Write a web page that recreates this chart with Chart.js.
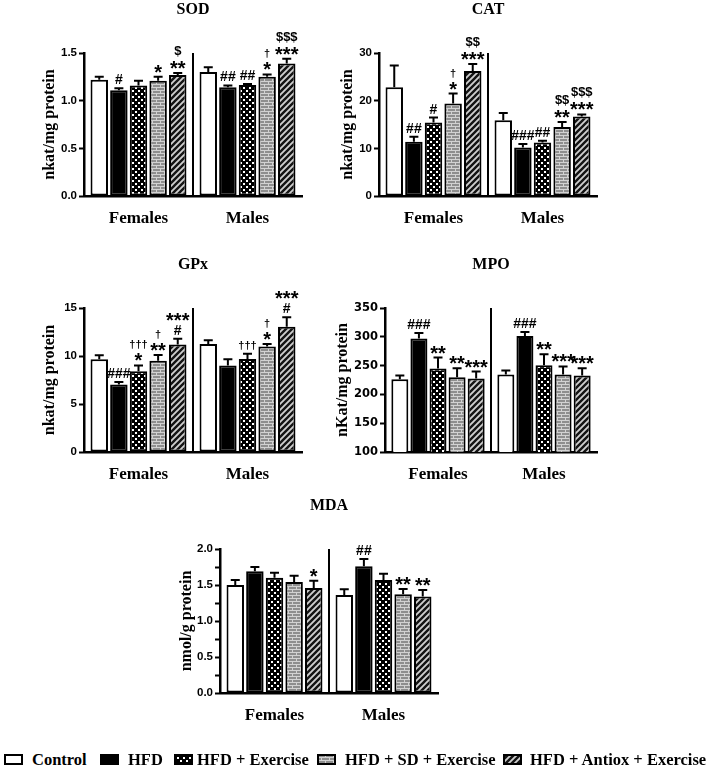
<!DOCTYPE html>
<html>
<head>
<meta charset="utf-8">
<script src="https://cdn.jsdelivr.net/npm/chart.js@4.4.1/dist/chart.umd.min.js"></script>
<style>
  body { margin: 0; background: #fff; width: 709px; height: 770px; position: relative; overflow: hidden; }
  canvas.panel { position: absolute; }
  .lg { position: absolute; font: bold 16.5px "Liberation Serif", "Times New Roman", serif; color: #000; white-space: nowrap; line-height: 18px; }
  .sw { position: absolute; }
</style>
</head>
<body>
<script>
// Groups and treatment series
const groups = ['Females', 'Males'];
const seriesNames = ['Control', 'HFD', 'HFD + Exercise', 'HFD + SD + Exercise', 'HFD + Antiox + Exercise'];

// Each row is one series: [Females, Males]
const sodMean = [[1.22, 1.30], [1.11, 1.14], [1.16, 1.165], [1.21, 1.25], [1.27, 1.39]];
const sodErr = [[0.03, 0.05], [0.02, 0.02], [0.05, 0.01], [0.04, 0.025], [0.02, 0.05]];
const sodMarks = [['', ''], ['#', '##'], ['', '##'], ['*', '†\n*'], ['$\n**', '$$$\n***']];

const catMean = [[22.8, 15.9], [11.4, 10.2], [15.4, 11.2], [19.4, 14.5], [26.2, 16.7]];
const catErr = [[4.6, 1.5], [1.05, 0.7], [1.05, 0.4], [2.1, 1.0], [1.5, 0.4]];
const catMarks = [['', ''], ['##', '###'], ['#', '##'], ['†\n*', '$$\n**'], ['$$\n***', '$$$\n***']];

const gpxMean = [[9.65, 11.25], [7.03, 9.0], [8.42, 9.68], [9.5, 11.0], [11.2, 13.05]];
const gpxErr = [[0.42, 0.38], [0.25, 0.67], [0.6, 0.55], [0.6, 0.25], [0.6, 0.98]];
const gpxMarks = [['', ''], ['###', ''], ['†††\n*', '†††'], ['†\n**', '†\n*'], ['***\n#', '***\n#']];

const mpoMean = [[226.5, 234.6], [297.2, 301.3], [245, 250.8], [229.9, 234.6], [227.6, 232.8]];
const mpoErr = [[6.4, 7], [9.3, 7], [19, 19], [15.7, 14], [12, 12.8]];
const mpoMarks = [['', ''], ['###', '###'], ['**', '**'], ['**', '***'], ['***', '***']];

const mdaMean = [[1.50, 1.36], [1.69, 1.76], [1.60, 1.57], [1.54, 1.37], [1.46, 1.34]];
const mdaErr = [[0.07, 0.08], [0.06, 0.10], [0.07, 0.085], [0.09, 0.075], [0.10, 0.09]];
const mdaMarks = [['', ''], ['', '##'], ['', ''], ['', '**'], ['*', '**']];

const W = 360, H = 260;
const SERIF = '"Liberation Serif", "Times New Roman", serif';
const SANS = '"Liberation Sans", Arial, sans-serif';

// Panel layout (plot area in page pixels)
const panels = [
  { title: 'SOD', yTitle: 'nkat/mg protein', mean: sodMean, err: sodErr, marks: sodMarks,
    min: 0, max: 1.5, step: 0.5, labelStep: 0.5, dec: 1, l: 84, t: 53, r: 302, b: 196, yw: 34 },
  { title: 'CAT', yTitle: 'nkat/mg protein', mean: catMean, err: catErr, marks: catMarks,
    min: 0, max: 30, step: 10, labelStep: 10, dec: 0, l: 379, t: 53, r: 597, b: 196, yw: 31 },
  { title: 'GPx', yTitle: 'nkat/mg protein', mean: gpxMean, err: gpxErr, marks: gpxMarks,
    min: 0, max: 15, step: 5, labelStep: 5, dec: 0, l: 84, t: 308, r: 302, b: 452, yw: 34 },
  { title: 'MPO', yTitle: 'nKat/mg protein', mean: mpoMean, err: mpoErr, marks: mpoMarks,
    min: 100, max: 350, step: 50, labelStep: 50, dec: 0, l: 385, t: 308, r: 597, b: 452, yw: 42,
    tickFont: { family: '"DejaVu Sans", sans-serif', size: 11.5, weight: 'bold' } },
  { title: 'MDA', yTitle: 'nmol/g protein', mean: mdaMean, err: mdaErr, marks: mdaMarks,
    min: 0, max: 2, step: 0.25, labelStep: 0.5, dec: 1, l: 220, t: 549, r: 438, b: 693, yw: 33 }
];

Chart.defaults.animation = false;
Chart.defaults.color = '#000';

// Bar fills: white, black, dots, bricks, diagonal stripes
function makeFills(ctx) {
  const tile = (w, h, draw) => {
    const c = document.createElement('canvas');
    c.width = w; c.height = h;
    draw(c.getContext('2d'));
    return ctx.createPattern(c, 'repeat');
  };
  const dots = tile(6, 6, g => {
    g.fillStyle = '#000'; g.fillRect(0, 0, 6, 6);
    g.fillStyle = '#fff'; g.fillRect(0, 0, 2, 2); g.fillRect(3, 3, 2, 2);
  });
  const brick = tile(8, 6, g => {
    g.fillStyle = '#8e8e8e'; g.fillRect(0, 0, 8, 6);
    g.fillStyle = '#d2d2d2';
    g.fillRect(0, 0, 8, 1); g.fillRect(0, 3, 8, 1);
    g.fillRect(0, 0, 1, 3); g.fillRect(4, 3, 1, 3);
  });
  const diag = tile(6, 6, g => {
    g.fillStyle = '#cfcfcf'; g.fillRect(0, 0, 6, 6);
    g.strokeStyle = '#141414'; g.lineWidth = 2.4;
    g.beginPath();
    g.moveTo(-1, 7); g.lineTo(7, -1);
    g.moveTo(-1, 1); g.lineTo(1, -1);
    g.moveTo(5, 7); g.lineTo(7, 5);
    g.stroke();
  });
  return ['#fff', '#000', dots, brick, diag];
}

function markFont(line) {
  if (line.includes('*')) return 'bold 20px ' + SANS;
  if (line.includes('†')) return 'bold 11px ' + SANS;
  if (line.includes('#')) return 'bold 14px ' + SANS;
  return 'bold 13px ' + SANS;
}

// Upper error bars plus significance marks above them
const errorBars = {
  id: 'errorBars',
  afterDatasetsDraw(chart) {
    const ctx = chart.ctx, y = chart.scales.y;
    chart.data.datasets.forEach((ds, i) => {
      chart.getDatasetMeta(i).data.forEach((bar, j) => {
        const top = y.getPixelForValue(ds.data[j] + ds.err[j]);
        ctx.save();
        ctx.strokeStyle = '#000';
        ctx.lineWidth = 2;
        ctx.beginPath();
        ctx.moveTo(bar.x, bar.y);
        ctx.lineTo(bar.x, top);
        ctx.moveTo(bar.x - 4.5, top);
        ctx.lineTo(bar.x + 4.5, top);
        ctx.stroke();
        const lines = ds.marks[j] ? ds.marks[j].split('\n') : [];
        let bottom = top - 4;
        ctx.fillStyle = '#000';
        ctx.textAlign = 'center';
        ctx.textBaseline = 'alphabetic';
        for (let k = lines.length - 1; k >= 0; k--) {
          ctx.font = markFont(lines[k]);
          const m = ctx.measureText(lines[k]);
          const base = bottom - m.actualBoundingBoxDescent;
          ctx.fillText(lines[k], bar.x, base);
          bottom = base - m.actualBoundingBoxAscent - 4;
        }
        ctx.restore();
      });
    });
  }
};

// Vertical line between Females and Males, plus panel title
const decor = {
  id: 'decor',
  afterDraw(chart, args, opts) {
    const ctx = chart.ctx, a = chart.chartArea, x = chart.scales.x;
    const mid = (x.getPixelForTick(0) + x.getPixelForTick(1)) / 2;
    ctx.save();
    ctx.strokeStyle = '#000';
    ctx.lineWidth = 2;
    ctx.beginPath();
    ctx.moveTo(mid, a.top);
    ctx.lineTo(mid, a.bottom);
    ctx.stroke();
    ctx.font = 'bold 16px ' + SERIF;
    ctx.textAlign = 'center';
    ctx.textBaseline = 'middle';
    ctx.fillStyle = '#000';
    ctx.fillText(opts.text, (a.left + a.right) / 2, a.top - 43);
    ctx.restore();
  }
};

function buildPanel(p) {
  const cv = document.createElement('canvas');
  cv.width = W; cv.height = H;
  cv.className = 'panel';
  cv.style.left = (p.l - 84) + 'px';
  cv.style.top = (p.t - 53) + 'px';
  document.body.appendChild(cv);
  const fills = makeFills(cv.getContext('2d'));
  const yWidth = p.yw + 9.6;
  const datasets = seriesNames.map((name, i) => ({
    label: name,
    data: p.mean[i],
    err: p.err[i],
    marks: p.marks[i],
    backgroundColor: fills[i],
    borderColor: '#000',
    borderWidth: 2,
    borderSkipped: false,
    categoryPercentage: 0.9,
    barPercentage: 0.89
  }));
  new Chart(cv, {
    type: 'bar',
    data: { labels: groups, datasets },
    options: {
      responsive: false,
      devicePixelRatio: 1,
      layout: {
        padding: {
          left: 84 - yWidth,
          right: W - 84 - (p.r - p.l),
          top: 53,
          bottom: H - 53 - (p.b - p.t) - 40
        }
      },
      plugins: {
        legend: { display: false },
        tooltip: { enabled: false },
        decor: { text: p.title }
      },
      scales: {
        x: {
          afterFit: s => { s.height = 40; },
          grid: { display: true, drawOnChartArea: false, drawTicks: false },
          border: { display: true, color: '#000', width: 2.5 },
          ticks: { font: { family: SERIF, size: 17, weight: 'bold' }, color: '#000', padding: 12 }
        },
        y: {
          min: p.min,
          max: p.max,
          afterFit: s => { s.width = yWidth; },
          grid: { display: true, drawOnChartArea: false, drawTicks: true, tickLength: 5, tickColor: '#000', tickWidth: 2 },
          border: { display: true, color: '#000', width: 2.5 },
          ticks: {
            stepSize: p.step,
            padding: 2,
            color: '#000',
            font: p.tickFont || { family: SANS, size: 11.5, weight: 'bold' },
            callback: v => {
              const r = v / p.labelStep;
              return Math.abs(r - Math.round(r)) < 1e-6 ? v.toFixed(p.dec) : '';
            }
          },
          title: {
            display: true,
            text: p.yTitle,
            color: '#000',
            padding: 0,
            font: { family: SERIF, size: 16, weight: 'bold' }
          }
        }
      }
    },
    plugins: [errorBars, decor]
  });
}

panels.forEach(buildPanel);

// Legend along the bottom
const legendPos = [[4, 32], [100, 128], [174, 197], [317, 345], [503, 530]];
seriesNames.forEach((name, i) => {
  const sw = document.createElement('canvas');
  sw.width = 19; sw.height = 11;
  sw.className = 'sw';
  sw.style.left = legendPos[i][0] + 'px';
  sw.style.top = '754px';
  document.body.appendChild(sw);
  const g = sw.getContext('2d');
  g.fillStyle = makeFills(g)[i];
  g.fillRect(0, 0, 19, 11);
  g.strokeStyle = '#000';
  g.lineWidth = 2;
  g.strokeRect(1, 1, 17, 9);
  const t = document.createElement('div');
  t.className = 'lg';
  t.style.left = legendPos[i][1] + 'px';
  t.style.top = '751px';
  t.textContent = name;
  document.body.appendChild(t);
});
</script>
</body>
</html>
